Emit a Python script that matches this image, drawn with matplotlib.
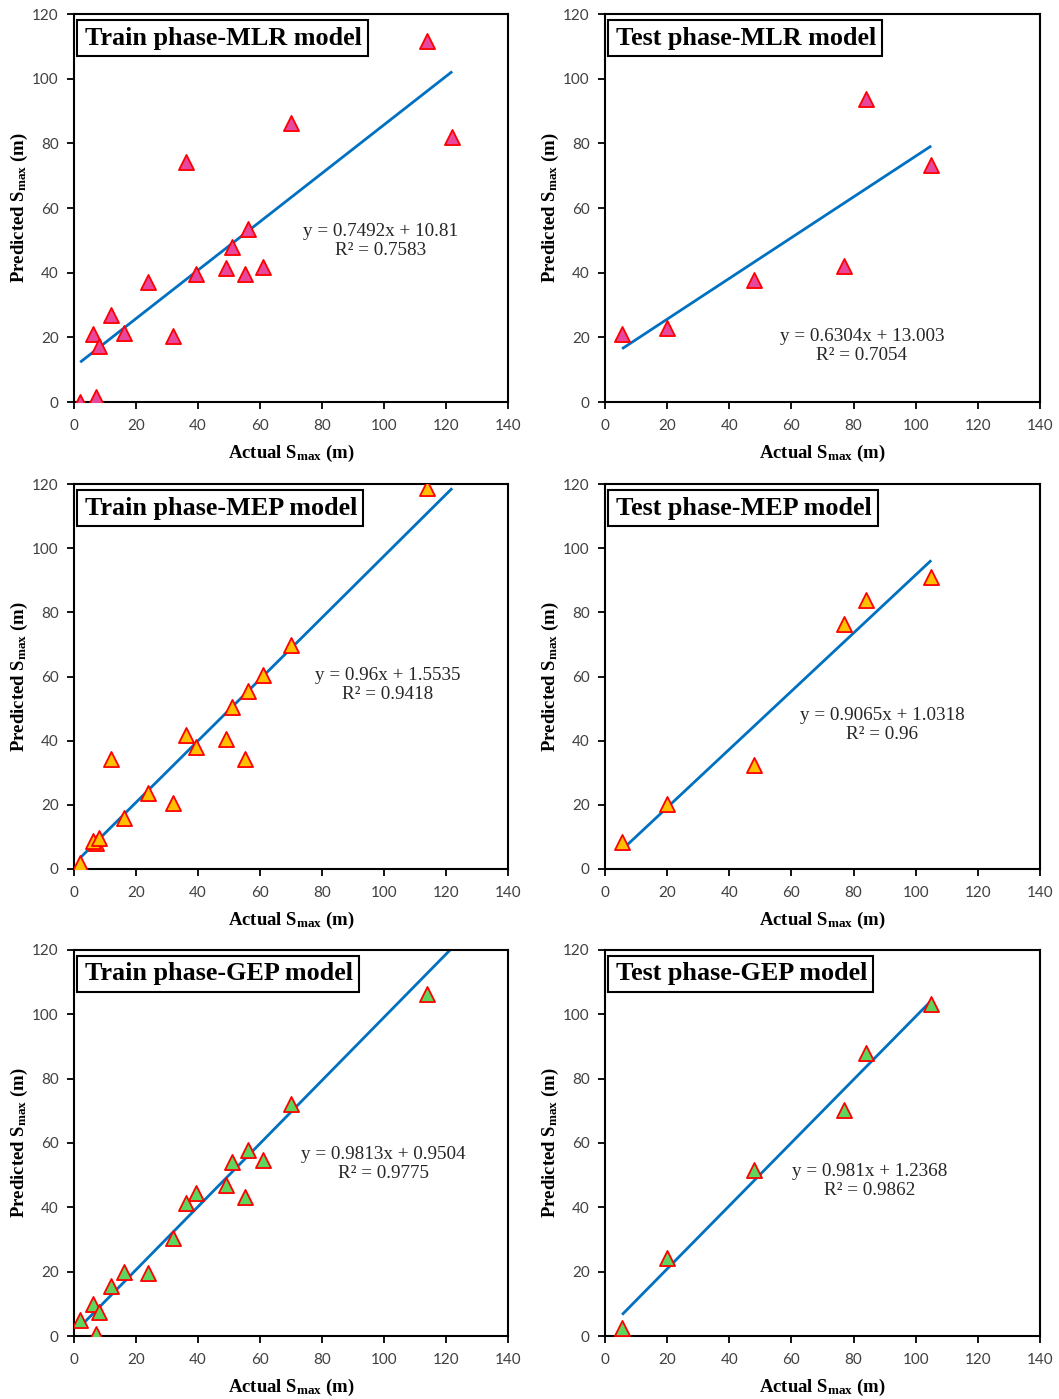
import numpy as np
import matplotlib
matplotlib.use("Agg")
import matplotlib.pyplot as plt
from matplotlib.patches import Rectangle
from matplotlib.transforms import ScaledTranslation

plt.rcParams['mathtext.fontset'] = 'custom'
plt.rcParams['mathtext.rm'] = 'Liberation Serif'
plt.rcParams['mathtext.bf'] = 'Liberation Serif:bold'
plt.rcParams['mathtext.it'] = 'Liberation Serif:italic'

# ---------------- data ----------------
train_actual = [2, 7, 6, 8, 12, 16, 24, 32, 36, 39.5, 49, 51, 55, 56, 61, 70, 114, 122]
train_mlr = [0, 1.5, 21.0, 17.2, 27.0, 21.3, 37.0, 20.3, 74.3, 39.5, 41.4, 47.9, 39.6, 53.5, 41.9, 86.4, 111.5, 81.9]
train_mep = [1.8, 8.2, 8.7, 9.6, 34.2, 15.8, 23.6, 20.7, 41.8, 37.9, 40.6, 50.6, 34.2, 55.5, 60.6, 69.9, 118.7, np.nan]
train_gep = [5.1, 0.5, 9.9, 7.5, 15.5, 19.9, 19.7, 30.5, 41.5, 44.6, 46.9, 54.1, 43.1, 57.8, 54.7, 72.1, 106.3, np.nan]

test_actual = [5.5, 20, 48, 77, 84, 105]
test_mlr = [21.1, 22.9, 37.7, 42.2, 93.8, 73.3]
test_mep = [8.5, 20.2, 32.3, 76.5, 83.9, 91.1]
test_gep = [2.6, 24.2, 51.5, 70.2, 88.0, 103.1]

slopes = [0.7492, 0.6304, 0.96, 0.9065, 0.9813, 0.981]
intercepts = [10.81, 13.003, 1.5535, 1.0318, 0.9504, 1.2368]
r2_labels = ["0.7583", "0.7054", "0.9418", "0.96", "0.9775", "0.9862"]
eq_labels = ["y = 0.7492x + 10.81", "y = 0.6304x + 13.003", "y = 0.96x + 1.5535",
             "y = 0.9065x + 1.0318", "y = 0.9813x + 0.9504", "y = 0.981x + 1.2368"]
titles = ["Train phase-MLR model", "Test phase-MLR model",
          "Train phase-MEP model", "Test phase-MEP model",
          "Train phase-GEP model", "Test phase-GEP model"]
x_ticks = [0, 20, 40, 60, 80, 100, 120, 140]
y_ticks = [0, 20, 40, 60, 80, 100, 120]

# ---------------- styling ----------------
W, H = 1059, 1399
fig = plt.figure(figsize=(W / 100, H / 100), dpi=100)

cols = [(74, 508), (605, 1040)]
rows = [(14, 402), (484, 869), (950, 1336)]
fills = ["#E8479E", "#FFC000", "#5ED65E"]
eq_pos = [(99, 49.8), (82.7, 17.3), (101.2, 57.4), (89.2, 44.9), (99.7, 53.5), (85.3, 48.2)]

xs = [train_actual, test_actual] * 3
ys = [train_mlr, test_mlr, train_mep, test_mep, train_gep, test_gep]

serif = "Liberation Serif"
tickfont = "Lato"
axes_list = []
title_texts = []

for i in range(6):
    r, c = divmod(i, 2)
    x0, x1 = cols[c]
    y0, y1 = rows[r]
    ax = fig.add_axes([x0 / W, 1 - y1 / H, (x1 - x0) / W, (y1 - y0) / H])
    axes_list.append(ax)
    x = np.array(xs[i], dtype=float)
    y = np.array(ys[i], dtype=float)

    xl = np.array([np.nanmin(x), np.nanmax(x)])
    ax.plot(xl, slopes[i] * xl + intercepts[i], color="#0070C0", lw=2.0, zorder=2,
            solid_capstyle="butt")
    ax.scatter(x, y, marker="^", s=118, facecolor=fills[r], edgecolor="#FF0000",
               linewidths=1.3, zorder=3)

    ax.set_xlim(0, 140)
    ax.set_ylim(0, 120)
    ax.set_xticks(x_ticks)
    ax.set_yticks(y_ticks)
    ax.tick_params(direction="out", length=5, width=1.3, labelsize=11,
                   labelcolor="#404040", color="black")
    ax.tick_params(axis="x", pad=7)
    ax.tick_params(axis="y", pad=6)
    for lab in ax.get_xticklabels() + ax.get_yticklabels():
        lab.set_fontfamily(tickfont)
    for sp in ax.spines.values():
        sp.set_linewidth(1.5)
        sp.set_color("black")

    ax.set_xlabel(r"$\mathbf{Actual\ S_{max}\ (m)}$", fontsize=13.5, labelpad=7)
    ax.set_ylabel(r"$\mathbf{Predicted\ S_{max}\ (m)}$", fontsize=13.5, labelpad=1.5)

    # title text, positioned in pixels from the top-left corner of the axes
    tr = ax.transAxes + ScaledTranslation(11 / 100, -24 / 100, fig.dpi_scale_trans)
    t = ax.text(0, 1, titles[i], transform=tr, ha="left", va="center",
                fontsize=18.8, fontweight="bold", family=serif, zorder=6)
    title_texts.append(t)

    ex, ey = eq_pos[i]
    ax.text(ex, ey, eq_labels[i] + "\n" + "R\u00b2 = " + r2_labels[i],
            ha="center", va="center", multialignment="center",
            fontsize=13.8, family=serif, color="#262626", linespacing=1.15, zorder=4)

# boxes around titles: fixed height, width from the rendered text
fig.canvas.draw()
renderer = fig.canvas.get_renderer()
for ax, t in zip(axes_list, title_texts):
    bb = t.get_window_extent(renderer)
    abb = ax.get_window_extent(renderer)
    left = abb.x0 + 3
    right = bb.x1 + 6
    top = abb.y1 - 6
    bottom = abb.y1 - 42
    rect = Rectangle((left / W, bottom / H), (right - left) / W, (top - bottom) / H,
                     transform=fig.transFigure, facecolor="white", edgecolor="black",
                     linewidth=1.5, zorder=5)
    ax.add_artist(rect)
    rect.set_clip_on(False)

fig.savefig("out.png", dpi=100)
